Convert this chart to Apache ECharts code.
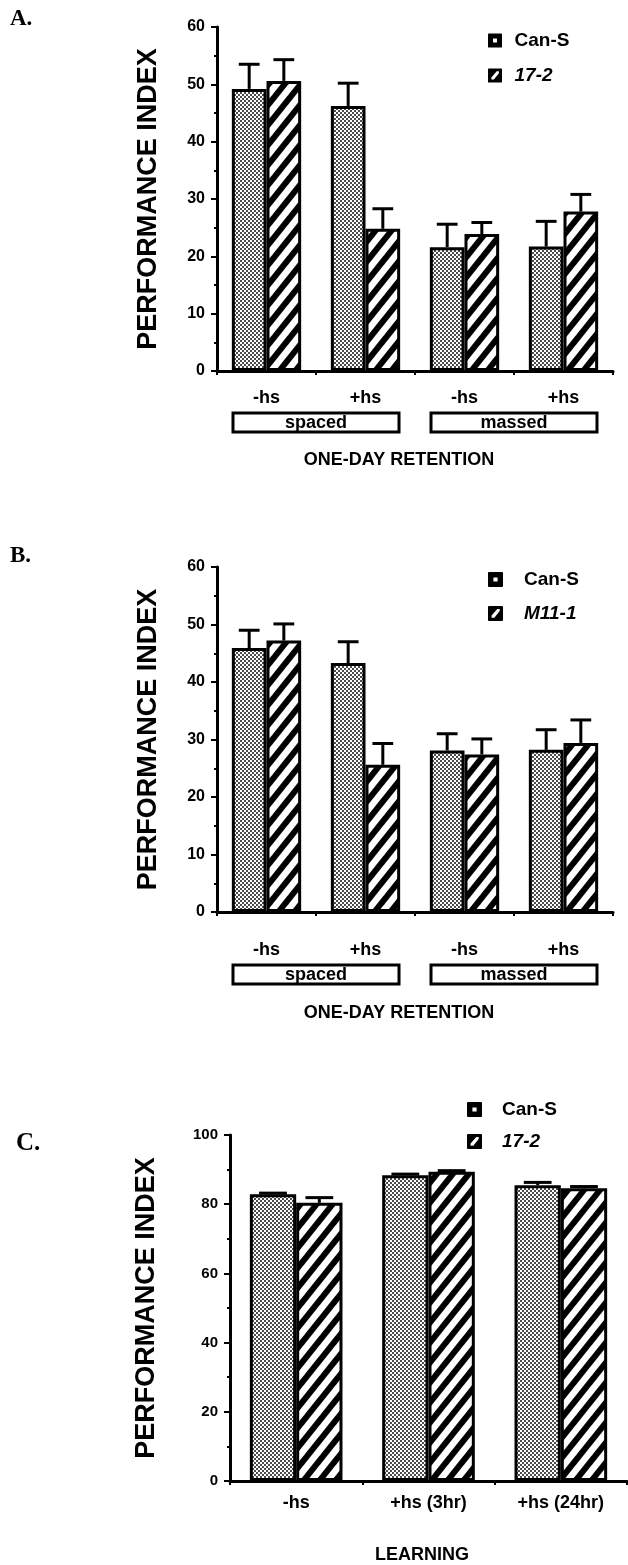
<!DOCTYPE html>
<html>
<head>
<meta charset="utf-8">
<title>Performance index</title>
<script src="https://cdn.jsdelivr.net/npm/echarts@6/dist/echarts.min.js"></script>
<style>
  html, body { margin: 0; padding: 0; background: #fff; }
  #chart { width: 628px; height: 1565px; }
</style>
</head>
<body>
<div id="chart"></div>
<script>
// Panels A and B: one-day retention after spaced / massed training
const retentionCategories = ['-hs', '+hs', '-hs', '+hs'];
const trainingGroups = ['spaced', 'massed'];
// Panel C: learning
const learningCategories = ['-hs', '+hs (3hr)', '+hs (24hr)'];

// Panel A: Can-S vs 17-2
const aCanS = [49.2, 46.2, 21.6, 21.7];
const aCanSErr = [4.3, 4.0, 4.0, 4.4];
const a172 = [50.6, 24.8, 23.9, 27.8];
const a172Err = [3.7, 3.5, 2.0, 3.0];

// Panel B: Can-S vs M11-1
const bCanS = [45.9, 43.3, 28.1, 28.2];
const bCanSErr = [3.1, 3.7, 2.9, 3.5];
const bM111 = [47.2, 25.6, 27.4, 29.4];
const bM111Err = [2.9, 3.7, 2.7, 4.0];

// Panel C: Can-S vs 17-2
const cCanS = [82.9, 88.4, 85.5];
const cCanSErr = [0.3, 0.3, 0.8];
const c172 = [80.4, 89.4, 84.6];
const c172Err = [1.5, 0.3, 0.5];

const ticksAB = { min: 0, max: 60, interval: 10 };
const ticksC = { min: 0, max: 100, interval: 20 };

const SANS = '"Liberation Sans", Arial, Helvetica, sans-serif';
const SERIF = '"Liberation Serif", "Times New Roman", serif';
const INK = '#000';
const BAR_FRAC = 0.35;

// Fill patterns: fine stipple for Can-S, heavy diagonal hatch for the mutants
function stipple() {
  const c = document.createElement('canvas');
  c.width = 4; c.height = 4;
  const g = c.getContext('2d');
  g.fillStyle = '#fff'; g.fillRect(0, 0, 4, 4);
  g.fillStyle = '#000';
  [[1, 1], [3, 3]].forEach(function (p) {
    g.beginPath(); g.arc(p[0], p[1], 0.95, 0, Math.PI * 2); g.fill();
  });
  return c;
}
function hatch() {
  const w = 16, h = 20;
  const c = document.createElement('canvas');
  c.width = w; c.height = h;
  const g = c.getContext('2d');
  g.fillStyle = '#fff'; g.fillRect(0, 0, w, h);
  g.strokeStyle = '#000'; g.lineWidth = 6; g.lineCap = 'butt';
  [-w, 0, w].forEach(function (k) {
    g.beginPath(); g.moveTo(k - 4, h + 5); g.lineTo(k + w + 4, -5); g.stroke();
  });
  return c;
}
const DOTS = { image: stipple(), repeat: 'repeat' };
const STRIPES = { image: hatch(), repeat: 'repeat' };

// Legend swatches: dark squares with a light notch cut out
const ICON_DOTS = 'path://M6,0L94,0Q100,0 100,6L100,94Q100,100 94,100L6,100Q0,100 0,94L0,6Q0,0 6,0Z M36,36L36,64L64,64L64,36Z';
const ICON_SLASH = 'path://M6,0L94,0Q100,0 100,6L100,94Q100,100 94,100L6,100Q0,100 0,94L0,6Q0,0 6,0Z M24,78L42,78L78,34L78,20L62,20L24,64Z';

function barSeries(name, values, fill, axis) {
  return {
    type: 'bar', name: name, data: values,
    xAxisIndex: axis, yAxisIndex: axis === 4 ? 2 : axis / 2,
    barWidth: (BAR_FRAC * 100) + '%', barGap: '0%',
    itemStyle: { color: fill, borderColor: INK, borderWidth: 3 },
    emphasis: { disabled: true }, z: 2
  };
}

// Upper error bar with cap, centred on its bar
function errorSeries(name, values, errs, side, axis) {
  return {
    type: 'custom', name: name + ' SEM',
    xAxisIndex: axis, yAxisIndex: axis === 4 ? 2 : axis / 2,
    data: values.map(function (v, i) { return [i, v, errs[i]]; }),
    encode: { x: 0, y: 1 }, z: 3, silent: true,
    renderItem: function (params, api) {
      const i = api.value(0), v = api.value(1), e = api.value(2);
      const band = api.size([1, 0])[0];
      const bw = band * BAR_FRAC;
      const base = api.coord([i, v]);
      const top = api.coord([i, v + e]);
      const x = base[0] + side * bw / 2;
      const cap = bw * 0.3;
      const st = { stroke: INK, lineWidth: 3 };
      return {
        type: 'group', children: [
          { type: 'line', shape: { x1: x, y1: base[1], x2: x, y2: top[1] }, style: st },
          { type: 'line', shape: { x1: x - cap, y1: top[1], x2: x + cap, y2: top[1] }, style: st }
        ]
      };
    }
  };
}

function valueAxis(grid, ticks, labelSize, nameGap) {
  return {
    type: 'value', gridIndex: grid, min: ticks.min, max: ticks.max, interval: ticks.interval,
    name: 'PERFORMANCE INDEX', nameLocation: 'middle', nameGap: nameGap,
    nameTextStyle: { fontFamily: SANS, fontSize: 27, fontWeight: 'bold', color: INK },
    axisLine: { show: true, lineStyle: { color: INK, width: 3 } },
    axisTick: { show: true, length: 6, lineStyle: { color: INK, width: 2 } },
    minorTick: { show: true, splitNumber: 2, length: 3, lineStyle: { color: INK, width: 2 } },
    splitLine: { show: false },
    axisLabel: { margin: 12, fontFamily: SANS, fontSize: labelSize, fontWeight: 'bold', color: INK }
  };
}

function categoryAxis(grid, cats, labelMargin, name, nameGap, namePad) {
  return {
    type: 'category', gridIndex: grid, data: cats,
    name: name, nameLocation: 'middle', nameGap: nameGap,
    nameTextStyle: { fontFamily: SANS, fontSize: 18, fontWeight: 'bold', color: INK, padding: namePad },
    axisLine: { lineStyle: { color: INK, width: 3 } },
    axisTick: { show: true, length: 4, lineStyle: { color: INK, width: 2 } },
    axisLabel: { margin: labelMargin, interval: 0, fontFamily: SANS, fontSize: 18, fontWeight: 'bold', color: INK }
  };
}

function groupAxis(grid, margin) {
  return {
    type: 'category', gridIndex: grid, data: trainingGroups, position: 'bottom',
    axisLine: { show: false }, axisTick: { show: false },
    axisLabel: {
      margin: margin, interval: 0, align: 'center',
      fontFamily: SANS, fontSize: 18, fontWeight: 'bold', color: INK,
      width: 166, height: 18, lineHeight: 18, padding: [1, 0, 0, 0],
      borderColor: INK, borderWidth: 3
    }
  };
}

function legend(left, top, gap, textPad, iconW, iconH, second) {
  return {
    orient: 'vertical', left: left, top: top, padding: 0,
    itemWidth: iconW, itemHeight: iconH, itemGap: gap, selectedMode: false,
    textStyle: { fontFamily: SANS, fontSize: 19, fontWeight: 'bold', color: INK, padding: [0, 0, 0, textPad] },
    data: [
      { name: 'Can-S', icon: ICON_DOTS, itemStyle: { color: INK, borderWidth: 0 } },
      { name: second, icon: ICON_SLASH, itemStyle: { color: INK, borderWidth: 0 }, textStyle: { fontStyle: 'italic' } }
    ]
  };
}

const panelLetter = function (text, left, top, size) {
  return { text: text, left: left, top: top, padding: 0,
    textStyle: { fontFamily: SERIF, fontSize: size, fontWeight: 'bold', color: INK } };
};

const chart = echarts.init(document.getElementById('chart'), null, { renderer: 'canvas' });
chart.setOption({
  backgroundColor: '#fff',
  animation: false,
  title: [panelLetter('A.', 10, 8, 23), panelLetter('B.', 10, 545, 23), panelLetter('C.', 16, 1131, 25)],
  legend: [
    legend(488, 31, 16, 7, 15, 14, '17-2'),
    legend(488, 570, 15, 15, 17, 15, 'M11-1'),
    legend(467, 1100, 13, 15, 15, 15, '17-2')
  ],
  grid: [
    { left: 217, top: 27, width: 396, height: 344 },
    { left: 217, top: 567, width: 396, height: 345 },
    { left: 230, top: 1135, width: 397, height: 346 }
  ],
  xAxis: [
    categoryAxis(0, retentionCategories, 18, 'ONE-DAY RETENTION', 80, [0, 32, 0, 0]),
    groupAxis(0, 42),
    categoryAxis(1, retentionCategories, 29, 'ONE-DAY RETENTION', 92, [0, 32, 0, 0]),
    groupAxis(1, 53),
    categoryAxis(2, learningCategories, 13, 'LEARNING', 65, [0, 13, 0, 0])
  ],
  yAxis: [
    valueAxis(0, ticksAB, 16, 55),
    valueAxis(1, ticksAB, 16, 55),
    valueAxis(2, ticksC, 15, 70)
  ],
  series: [
    barSeries('Can-S', aCanS, DOTS, 0),
    barSeries('17-2', a172, STRIPES, 0),
    errorSeries('Can-S', aCanS, aCanSErr, -1, 0),
    errorSeries('17-2', a172, a172Err, 1, 0),

    barSeries('Can-S', bCanS, DOTS, 2),
    barSeries('M11-1', bM111, STRIPES, 2),
    errorSeries('Can-S', bCanS, bCanSErr, -1, 2),
    errorSeries('M11-1', bM111, bM111Err, 1, 2),

    barSeries('Can-S', cCanS, DOTS, 4),
    barSeries('17-2', c172, STRIPES, 4),
    errorSeries('Can-S', cCanS, cCanSErr, -1, 4),
    errorSeries('17-2', c172, c172Err, 1, 4)
  ]
});
</script>
</body>
</html>
